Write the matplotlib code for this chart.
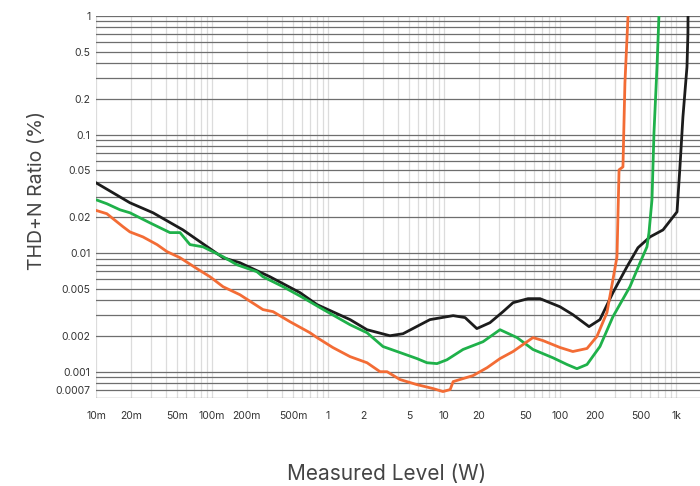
import numpy as np
import matplotlib
matplotlib.use("Agg")
import matplotlib.pyplot as plt
from matplotlib.ticker import LogLocator, FixedLocator, FixedFormatter, NullFormatter

## Data (W, %)
black_x = [0.01, 0.0196, 0.031, 0.0562, 0.1245, 0.174, 0.316, 0.574, 0.804, 1.55, 2.17,
           3.42, 4.43, 7.57, 12.0, 15.2, 19.2, 24.9, 32.3, 39.4, 53.0, 67.3, 100, 129,
           178, 221, 286, 378, 470, 597, 773, 1021, 1082, 1148, 1244, 1268, 1270]
black_y = [0.0392, 0.0266, 0.0219, 0.0157, 0.00915, 0.0083, 0.00632, 0.00464, 0.00368,
           0.00275, 0.00226, 0.00201, 0.00209, 0.00275, 0.00297, 0.00286, 0.00231, 0.00259,
           0.00321, 0.00382, 0.00413, 0.00413, 0.00353, 0.00303, 0.0024, 0.00275, 0.00464,
           0.00768, 0.0111, 0.0137, 0.0157, 0.0223, 0.0534, 0.141, 0.372, 0.719, 1.0]

green_x = [0.01, 0.0124, 0.0161, 0.0196, 0.0292, 0.0434, 0.053, 0.0646, 0.0836, 0.1245,
           0.164, 0.244, 0.275, 0.41, 0.609, 0.853, 1.55, 2.17, 2.98, 4.18, 5.85, 7.13,
           8.70, 10.6, 14.6, 21.7, 30.4, 42.6, 58.5, 87, 115, 140, 171, 221, 286, 401,
           490, 562, 585, 621, 646, 686, 713]
green_y = [0.0282, 0.0261, 0.0232, 0.0219, 0.018, 0.0149, 0.0149, 0.0118, 0.0113, 0.00933,
           0.00798, 0.00697, 0.00632, 0.00521, 0.00421, 0.00347, 0.00249, 0.00213, 0.00163,
           0.00145, 0.00129, 0.00119, 0.00117, 0.00126, 0.00154, 0.00179, 0.00226, 0.00194,
           0.00154, 0.00131, 0.00115, 0.00106, 0.00115, 0.00163, 0.00291, 0.00521, 0.0083,
           0.0113, 0.0149, 0.0282, 0.1033, 0.372, 1.0]

orange_x = [0.0102, 0.0124, 0.0171, 0.0196, 0.0254, 0.0336, 0.0409, 0.053, 0.0743, 0.0961,
            0.1245, 0.174, 0.275, 0.336, 0.47, 0.70, 0.804, 1.10, 1.55, 2.17, 2.81, 3.23,
            4.18, 5.85, 8.04, 9.8, 11.3, 12.0, 14.6, 17.8, 23.5, 30.4, 39.4, 52.0, 58.5,
            71.3, 100, 129, 171, 208, 254, 286, 310, 323, 349, 363, 386]
orange_y = [0.0228, 0.0215, 0.0167, 0.0151, 0.0137, 0.0118, 0.0103, 0.00915, 0.00739,
            0.00632, 0.00521, 0.00446, 0.00334, 0.00321, 0.00264, 0.00213, 0.00194, 0.0016,
            0.00134, 0.00119, 0.001, 0.001, 0.000858, 0.000778, 0.000721, 0.00068, 0.000707,
            0.000825, 0.000875, 0.000927, 0.00108, 0.00129, 0.00148, 0.00179, 0.00194,
            0.00183, 0.0016, 0.00148, 0.00157, 0.00198, 0.00315, 0.00597, 0.0093, 0.0504,
            0.0534, 0.273, 1.0]

x_ticks = [0.01, 0.02, 0.05, 0.1, 0.2, 0.5, 1, 2, 5, 10, 20, 50, 100, 200, 500, 1000]
x_labels = ["10m", "20m", "50m", "100m", "200m", "500m", "1", "2", "5", "10", "20",
            "50", "100", "200", "500", "1k"]
y_ticks = [1, 0.5, 0.2, 0.1, 0.05, 0.02, 0.01, 0.005, 0.002, 0.001, 0.0007]
y_labels = ["1", "0.5", "0.2", "0.1", "0.05", "0.02", "0.01", "0.005", "0.002", "0.001", "0.0007"]

plt.rcParams['font.family'] = ['Inter', 'DejaVu Sans']

fig = plt.figure(figsize=(7, 4.86), dpi=100)
ax = fig.add_axes([96 / 700, 1 - 398 / 486, 604 / 700, 382 / 486])
ax.set_xscale("log")
ax.set_yscale("log")
ax.set_xlim(0.01, 1611)
ax.set_ylim(0.0006, 1)

## grid: dark horizontal lines, light vertical lines, at every minor step
ax.xaxis.set_minor_locator(LogLocator(base=10, subs=np.arange(1, 10)))
ax.yaxis.set_minor_locator(LogLocator(base=10, subs=np.arange(1, 10)))
ax.xaxis.set_minor_formatter(NullFormatter())
ax.yaxis.set_minor_formatter(NullFormatter())
ax.grid(True, which="both", axis="x", color="#dcdcdc", linewidth=0.9)
ax.grid(True, which="both", axis="y", color="#6e6e6e", linewidth=0.9)
ax.set_axisbelow(True)

ax.xaxis.set_major_locator(FixedLocator(x_ticks))
ax.xaxis.set_major_formatter(FixedFormatter(x_labels))
ax.yaxis.set_major_locator(FixedLocator(y_ticks))
ax.yaxis.set_major_formatter(FixedFormatter(y_labels))
ax.tick_params(which="both", length=0, labelsize=7.5, labelcolor="#333333")
ax.tick_params(axis="x", pad=9)
ax.tick_params(axis="y", pad=4)
for s in ax.spines.values():
    s.set_visible(False)

ax.plot(black_x, black_y, color="#1c1c1c", lw=2.0)
ax.plot(green_x, green_y, color="#1fb14a", lw=2.0)
ax.plot(orange_x, orange_y, color="#f36c35", lw=2.0)

fig.text(387 / 700, 1 - 474 / 486, "Measured Level (W)", ha="center", va="center",
         fontsize=15, color="#444444")
fig.text(37 / 700, 1 - 190 / 486, "THD+N Ratio (%)", ha="center", va="center",
         rotation=90, fontsize=14, color="#444444")

fig.savefig("out.png", dpi=100)
